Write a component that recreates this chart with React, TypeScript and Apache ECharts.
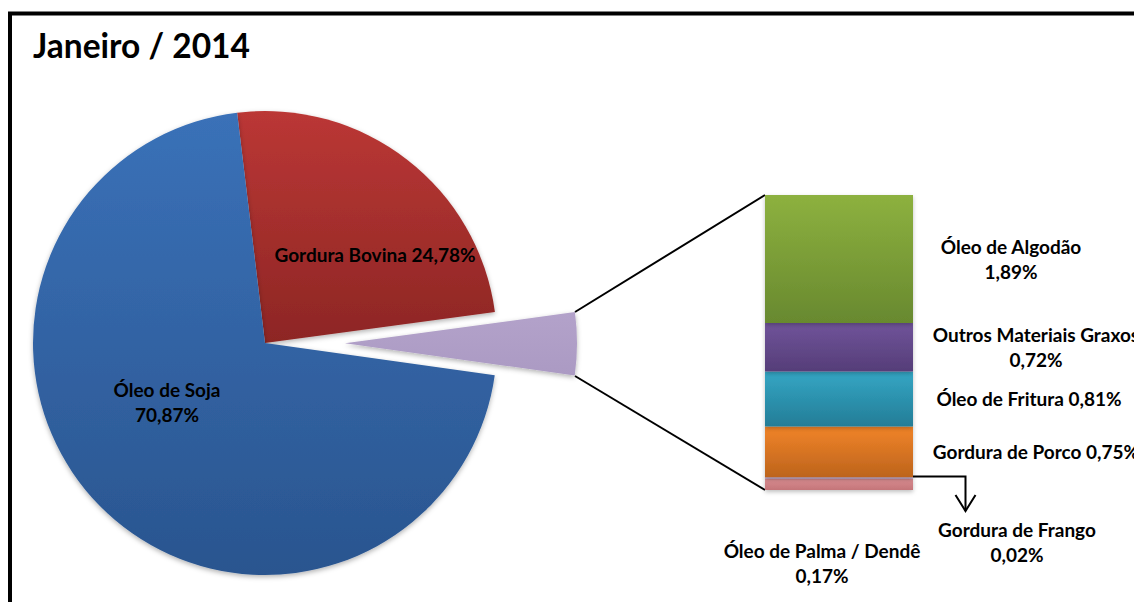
import React, { useEffect, useRef } from "react";
import * as echarts from "echarts";

const titleText = "Janeiro / 2014";

const pieNames = ["Gordura Bovina", "Outros", "Óleo de Soja"];
const pieValues = [24.78, 4.36, 70.87];

const barNames = [
  "Óleo de Palma / Dendê",
  "Gordura de Frango",
  "Gordura de Porco",
  "Óleo de Fritura",
  "Outros Materiais Graxos",
  "Óleo de Algodão",
];
const barValues = [0.17, 0.02, 0.75, 0.81, 0.72, 1.89];

const FONT = "Lato";
const pct = (v: number) => v.toFixed(2).replace(".", ",") + "%";

function grad(top: string, bottom: string) {
  return new echarts.graphic.LinearGradient(0, 0, 0, 1, [
    { offset: 0, color: top },
    { offset: 1, color: bottom },
  ]);
}

const pieColors = [
  ["#bb3735", "#8d2624"],
  ["#b3a2ca", "#ab9ac3"],
  ["#3a71b8", "#2a558f"],
];
const barColors = [
  ["#d98d91", "#c47579"],
  ["#a898cc", "#a090c4"],
  ["#f18429", "#bd641c"],
  ["#34a6c4", "#247d97"],
  ["#70549a", "#553d78"],
  ["#8db13f", "#68892f"],
];
const barLabelBreak = [true, true, false, false, true, true];
const barLabelOffset = [
  [-17, 79],
  [178, 64],
  [197, 0],
  [190, 0],
  [197, 0],
  [172, 0],
];
const pieLabelPos = [
  [375, 254],
  null,
  [167, 402],
];

export default function App() {
  const ref = useRef<HTMLDivElement>(null);
  useEffect(() => {
    if (!ref.current) return;
    const chart = echarts.init(ref.current, undefined, { renderer: "svg" });
    const labelStyle = {
      fontFamily: FONT,
      fontWeight: "bold" as const,
      fontSize: 19,
      color: "#000",
      lineHeight: 25,
    };
    const barSeries = barNames.map((n, i) => ({
      type: "bar",
      name: n,
      stack: "s",
      barWidth: "100%",
      data: [barValues[i]],
      itemStyle: {
        color: grad(barColors[i][0], barColors[i][1]),
        shadowBlur: 4,
        shadowColor: "rgba(0,0,0,0.25)",
        shadowOffsetY: 2,
      },
      label: {
        show: true,
        position: "inside",
        offset: barLabelOffset[i],
        align: "center",
        ...labelStyle,
        formatter: () => n + (barLabelBreak[i] ? "\n" : " ") + pct(barValues[i]),
      },
    }));
    chart.setOption({
      animation: false,
      backgroundColor: "#fff",
      title: {
        text: titleText,
        left: 28,
        top: 23,
        textStyle: { fontFamily: FONT, fontWeight: "bold", fontSize: 33.5, color: "#000" },
      },
      grid: { left: 765, right: 221, top: 195, bottom: 112 },
      xAxis: { type: "category", data: [""], show: false },
      yAxis: { type: "value", min: 0, max: 4.36, show: false },
      series: [
        {
          type: "pie",
          center: [265, 343],
          radius: 232,
          startAngle: 96.9,
          clockwise: true,
          selectedMode: "single",
          selectedOffset: 80,
          labelLine: { show: false },
          label: {
            show: true,
            position: "inside",
            ...labelStyle,
            formatter: (p: any) =>
              p.dataIndex === 1
                ? ""
                : p.dataIndex === 0
                ? p.name + " " + pct(p.value)
                : p.name + "\n" + pct(p.value),
          },
          labelLayout: (p: any) => {
            const pos = pieLabelPos[p.dataIndex];
            return pos ? { x: pos[0], y: pos[1] } : {};
          },
          emphasis: { disabled: true },
          data: pieNames.map((n, i) => ({
            name: n,
            value: pieValues[i],
            selected: i === 1,
            itemStyle: {
              color: grad(pieColors[i][0], pieColors[i][1]),
              shadowBlur: 5,
              shadowColor: "rgba(0,0,0,0.3)",
              shadowOffsetY: 2,
            },
          })),
        },
        ...barSeries,
      ],
      graphic: [
        {
          type: "rect",
          shape: { x: 10, y: 13.5, width: 1300, height: 800 },
          style: { fill: "none", stroke: "#000", lineWidth: 4 },
          silent: true,
        },
        {
          type: "line",
          shape: { x1: 575, y1: 312, x2: 765, y2: 195 },
          style: { stroke: "#000", lineWidth: 2 },
        },
        {
          type: "line",
          shape: { x1: 575, y1: 376, x2: 765, y2: 490 },
          style: { stroke: "#000", lineWidth: 2 },
        },
        {
          type: "polyline",
          shape: { points: [[913, 476.5], [965.5, 476.5], [965.5, 511]] },
          style: { stroke: "#000", lineWidth: 2, fill: "none" },
        },
        {
          type: "polyline",
          shape: { points: [[955.5, 495], [965.5, 511], [975.5, 495]] },
          style: { stroke: "#000", lineWidth: 2, fill: "none" },
        },
      ],
    });
    return () => chart.dispose();
  }, []);
  return (
    <div
      ref={ref}
      style={{ position: "fixed", left: 0, top: 0, width: 1134, height: 602, background: "#fff" }}
    />
  );
}
